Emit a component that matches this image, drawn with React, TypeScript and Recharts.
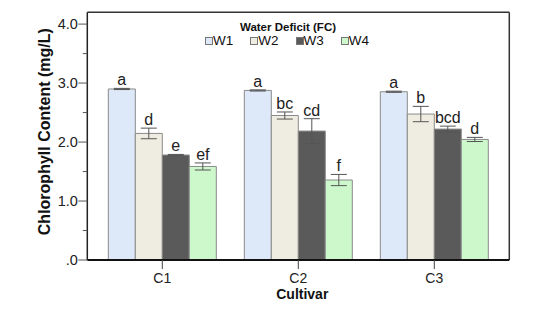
import {
  BarChart,
  Bar,
  XAxis,
  YAxis,
  ErrorBar,
  LabelList,
  Legend,
  Label,
  CartesianGrid,
} from 'recharts';

const categories = ['C1', 'C2', 'C3'];
const w1 = [2.9, 2.875, 2.853];
const w2 = [2.146, 2.45, 2.475];
const w3 = [1.78, 2.186, 2.22];
const w4 = [1.586, 1.356, 2.044];
const w1Err = [0.01, 0.01, 0.01];
const w2Err = [0.09, 0.06, 0.13];
const w3Err = [0.01, 0.21, 0.05];
const w4Err = [0.06, 0.095, 0.035];
const w1Sig = ['a', 'a', 'a'];
const w2Sig = ['d', 'bc', 'b'];
const w3Sig = ['e', 'cd', 'bcd'];
const w4Sig = ['ef', 'f', 'd'];
const yTicks = [0, 0.5, 1, 1.5, 2, 2.5, 3, 3.5, 4];

const FONT = '"Liberation Sans", Arial, sans-serif';

const seriesList = [
  { key: 'W1', vals: w1, errs: w1Err, sig: w1Sig, fill: '#dde9f8' },
  { key: 'W2', vals: w2, errs: w2Err, sig: w2Sig, fill: '#efede1' },
  { key: 'W3', vals: w3, errs: w3Err, sig: w3Sig, fill: '#5a5a5a' },
  { key: 'W4', vals: w4, errs: w4Err, sig: w4Sig, fill: '#ccf8cc' },
];

const data = categories.map((c, i) => {
  const row: Record<string, string | number> = { cat: c };
  seriesList.forEach((s) => {
    row[s.key] = s.vals[i];
    row[s.key + 'Err'] = s.errs[i];
    row[s.key + 'Sig'] = s.sig[i];
  });
  return row;
});

function YTick(props: any) {
  const { x, y, payload } = props;
  const v = payload.value as number;
  const major = Number.isInteger(v);
  return (
    <g>
      <line x1={x - (major ? 9 : 4.5)} x2={x} y1={y} y2={y} stroke="#555" strokeWidth={1} />
      {major && (
        <text x={x - 9.5} y={y} dy={5} textAnchor="end" fontSize={14.5} fontFamily={FONT} fill="#222">
          {v === 0 ? '.0' : v.toFixed(1)}
        </text>
      )}
    </g>
  );
}

function makeSigLabel(vals: number[], errs: number[]) {
  return function SigLabel(props: any) {
    const { x, y, width, height, value, index } = props;
    const pxPerUnit = height / vals[index];
    const top = y - errs[index] * pxPerUnit;
    return (
      <text x={x + width / 2} y={top - 3} textAnchor="middle" fontSize={16} fontFamily={FONT} fill="#222">
        {value}
      </text>
    );
  };
}

function YTitle(props: any) {
  const { viewBox } = props;
  const cy = viewBox.y + viewBox.height / 2 - 4.5;
  return (
    <text
      x={50}
      y={cy}
      transform={`rotate(-90, 50, ${cy})`}
      textAnchor="middle"
      fontSize={16}
      fontWeight="bold"
      fontFamily={FONT}
      fill="#111"
    >
      Chlorophyll Content (mg/L)
    </text>
  );
}

function LegendBox(props: any) {
  const { payload } = props;
  return (
    <div style={{ position: 'relative', width: 542, height: 0, overflow: 'visible', fontFamily: FONT }}>
      <div
        style={{
          position: 'absolute',
          left: 288,
          top: 20,
          transform: 'translateX(-50%)',
          fontSize: 11.5,
          fontWeight: 'bold',
          lineHeight: '14px',
          whiteSpace: 'nowrap',
          color: '#111',
        }}
      >
        Water Deficit (FC)
      </div>
      <div
        style={{
          position: 'absolute',
          left: 205,
          top: 33,
          display: 'flex',
          gap: 17,
          fontSize: 13.5,
          lineHeight: '16px',
          color: '#111',
          whiteSpace: 'nowrap',
        }}
      >
        {(payload || []).map((p: any) => (
          <div key={p.value} style={{ display: 'flex', alignItems: 'center' }}>
            <span
              style={{
                display: 'inline-block',
                width: 6,
                height: 6,
                background: p.color,
                border: '1px solid #777',
              }}
            />
            <span>{p.value}</span>
          </div>
        ))}
      </div>
    </div>
  );
}

export default function App() {
  return (
    <div style={{ position: 'absolute', left: 0, top: 0, background: '#fff' }}>
      <BarChart
        width={542}
        height={324}
        data={data}
        margin={{ top: 12.3, right: 32.7, left: 0, bottom: 0 }}
        barCategoryGap={14}
        barGap={0}
      >
        <CartesianGrid
          stroke="#333"
          strokeWidth={1.5}
          horizontalCoordinatesGenerator={({ offset }: any) => [offset.top]}
          verticalCoordinatesGenerator={({ offset }: any) => [offset.left + offset.width]}
        />
        <XAxis
          dataKey="cat"
          height={64}
          padding={{ left: 7, right: 7 }}
          tickSize={9}
          tickMargin={4}
          stroke="#111"
          axisLine={{ stroke: '#111', strokeWidth: 2 }}
          tickLine={{ stroke: '#444' }}
          tick={{ fontSize: 14, fontFamily: FONT, fill: '#222' }}
        >
          <Label
            value="Cultivar"
            position="insideBottom"
            offset={24.8}
            dx={4}
            style={{ fontSize: 14, fontWeight: 'bold', fontFamily: FONT, fill: '#111' }}
          />
        </XAxis>
        <YAxis
          width={87.3}
          domain={[0, 4.2]}
          ticks={yTicks}
          interval={0}
          tickSize={0}
          tickMargin={0}
          tickLine={false}
          axisLine={{ stroke: '#222', strokeWidth: 1.5 }}
          tick={<YTick />}
        >
          <Label content={<YTitle />} />
        </YAxis>
        <Legend
          verticalAlign="top"
          content={<LegendBox />}
          wrapperStyle={{ top: 0, left: 0, width: 542, height: 0, overflow: 'visible' }}
        />
        {seriesList.map((s) => (
          <Bar
            key={s.key}
            dataKey={s.key}
            name={s.key}
            fill={s.fill}
            stroke="#8a8a8a"
            strokeWidth={1}
            isAnimationActive={false}
          >
            <ErrorBar dataKey={s.key + 'Err'} width={8} strokeWidth={1} stroke="#555" direction="y" />
            <LabelList dataKey={s.key + 'Sig'} content={makeSigLabel(s.vals, s.errs)} />
          </Bar>
        ))}
      </BarChart>
    </div>
  );
}
